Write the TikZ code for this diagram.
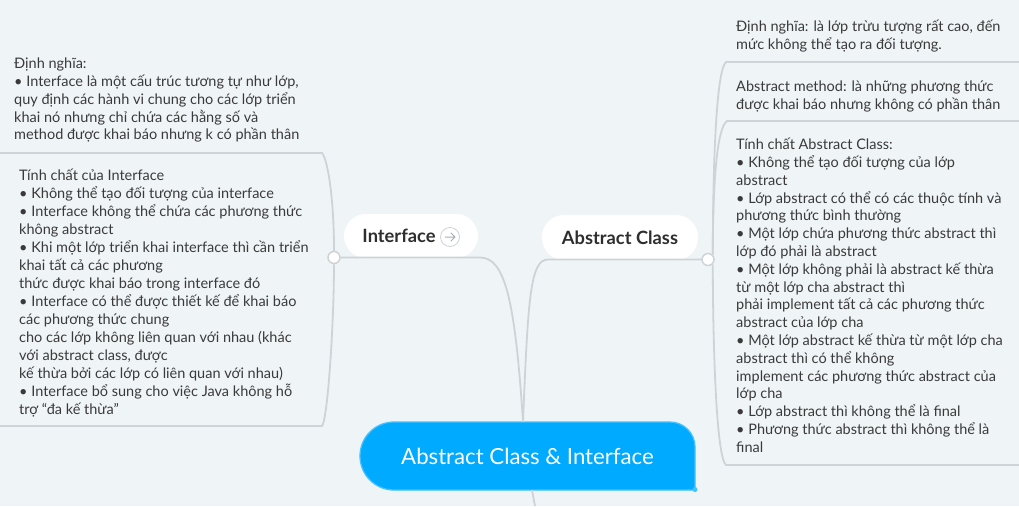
\documentclass[tikz,border=0pt]{standalone}
\usepackage{fontspec}
\setmainfont{Lato}
\definecolor{bg}{HTML}{EFF4F7}
\definecolor{linec}{HTML}{CED3D7}
\definecolor{textc}{HTML}{3A3A3A}
\definecolor{titlec}{HTML}{2E2E2E}
\definecolor{rootc}{HTML}{00AAFF}
\definecolor{rootb}{HTML}{45C1FF}
\definecolor{iconc}{HTML}{A9AEB2}
\begin{document}
\begin{tikzpicture}[x=1pt,y=-1pt,
  conn/.style={draw=linec, line width=1.8pt},
  txt/.style={anchor=north west, inner sep=0pt, align=left, font=\fontsize{14.5}{17.8}\selectfont, text=textc},
  pill/.style={fill=white, rounded corners=22pt, inner sep=0pt, text=titlec, font=\fontsize{18.3}{21}\selectfont\bfseries},
  knob/.style={circle, draw=linec, line width=1.5pt, fill=white, minimum size=12pt, inner sep=0pt},
  ]
\fill[bg] (0,0) rectangle (1019,506);
\useasboundingbox (0,0) rectangle (1019,506);

% free ends
\coordinate (ltop) at (0,153);
\coordinate (lbot) at (0,426);
\coordinate (rl1) at (1019,62);
\coordinate (rl2) at (1019,121);
\coordinate (rl3) at (1019,465);
\coordinate (bot) at (535,506);

% root shape
\path[fill=rootc, draw=rootb, line width=1.3pt]
  (695,490) -- (394,490) .. controls (375.2,490) and (360,474.8) .. (360,456)
  .. controls (360,437.2) and (375.2,422) .. (394,422) -- (670,422)
  .. controls (683.8,422) and (695,433.2) .. (695,447) -- cycle;
\fill[rootb] (695,489.5) circle (2.5pt);
\node[minimum width=335pt, minimum height=68pt, inner sep=0pt, text=white,
  font=\fontsize{22.2}{26}\selectfont] (root) at (527.5,456) {Abstract Class \& Interface};

% topic pills
\node[pill, minimum width=134pt, minimum height=44pt] (iface) at (411,236) {Interface\kern24pt};
\node[circle, draw=linec, line width=0.8pt, minimum size=19pt, inner sep=0pt] (icon) at (450,237) {};
\draw[iconc, line width=1pt, line cap=round, line join=round]
  ([xshift=-5pt]icon.center) -- ([xshift=5pt]icon.center)
  ([xshift=1pt,yshift=4pt]icon.center) -- ([xshift=5pt]icon.center) -- ([xshift=1pt,yshift=-4pt]icon.center);
\node[pill, minimum width=156pt, minimum height=45pt] (aclass) at (620,237.5) {Abstract Class};

% knobs
\node[knob] (lk) at (334,257.5) {};
\node[knob] (rk) at (708,259.5) {};

% connectors root -> topics
\draw[conn] ([xshift=-4.5pt]root.north) .. controls +(-8,-122) and +(25,0) .. (480,257.5) -- (lk);
\draw[conn] ([xshift=-4.5pt]root.north) .. controls +(5,-122) and +(-18,0) .. (548,259.5) -- (rk);
\draw[conn] ([xshift=4.5pt]root.south) -- (bot);

% left bracket
\draw[conn] (lk.north) .. controls (334,200) and (328,160) .. (322,153) -- (ltop);
\draw[conn] (lk.south) .. controls (334,320) and (328,418) .. (322,426) -- (lbot);

% right bracket
\draw[conn] (rk.north east) .. controls (713,150) and (717,70) .. (726,62) -- (rl1);
\draw[conn] (rk.north east) .. controls (713,180) and (717,128) .. (727,121) -- (rl2);
\draw[conn] (rk.south east) .. controls (713,360) and (717,458) .. (726,465) -- (rl3);

% texts
\node[txt] (ldef) at (14,56) {\strut Định nghĩa:\\
• Interface là một cấu trúc tương tự như lớp,\\
quy định các hành vi chung cho các lớp triển\\
khai nó nhưng chỉ chứa các hằng số và\\
method được khai báo nhưng k có phần thân};

\node[txt, font=\fontsize{14.5}{18}\selectfont] (lprop) at (19,168) {\strut Tính chất của Interface\\
• Không thể tạo đối tượng của interface\\
• Interface không thể chứa các phương thức\\
không abstract\\
• Khi một lớp triển khai interface thì cần triển\\
khai tất cả các phương\\
thức được khai báo trong interface đó\\
• Interface có thể được thiết kế để khai báo\\
các phương thức chung\\
cho các lớp không liên quan với nhau (khác\\
với abstract class, được\\
kế thừa bởi các lớp có liên quan với nhau)\\
• Interface bổ sung cho việc Java không hỗ\\
trợ “đa kế thừa”};

\node[txt] (rdef) at (736,19) {\strut Định nghĩa: là lớp trừu tượng rất cao, đến\\
mức không thể tạo ra đối tượng.};

\node[txt] (rmeth) at (736,79) {\strut Abstract method: là những phương thức\\
được khai báo nhưng không có phần thân};

\node[txt] (rprop) at (736,137) {\strut Tính chất Abstract Class:\\
• Không thể tạo đối tượng của lớp\\
abstract\\
• Lớp abstract có thể có các thuộc tính và\\
phương thức bình thường\\
• Một lớp chứa phương thức abstract thì\\
lớp đó phải là abstract\\
• Một lớp không phải là abstract kế thừa\\
từ một lớp cha abstract thì\\
phải implement tất cả các phương thức\\
abstract của lớp cha\\
• Một lớp abstract kế thừa từ một lớp cha\\
abstract thì có thể không\\
implement các phương thức abstract của\\
lớp cha\\
• Lớp abstract thì không thể là final\\
• Phương thức abstract thì không thể là\\
final};
\end{tikzpicture}
\end{document}
